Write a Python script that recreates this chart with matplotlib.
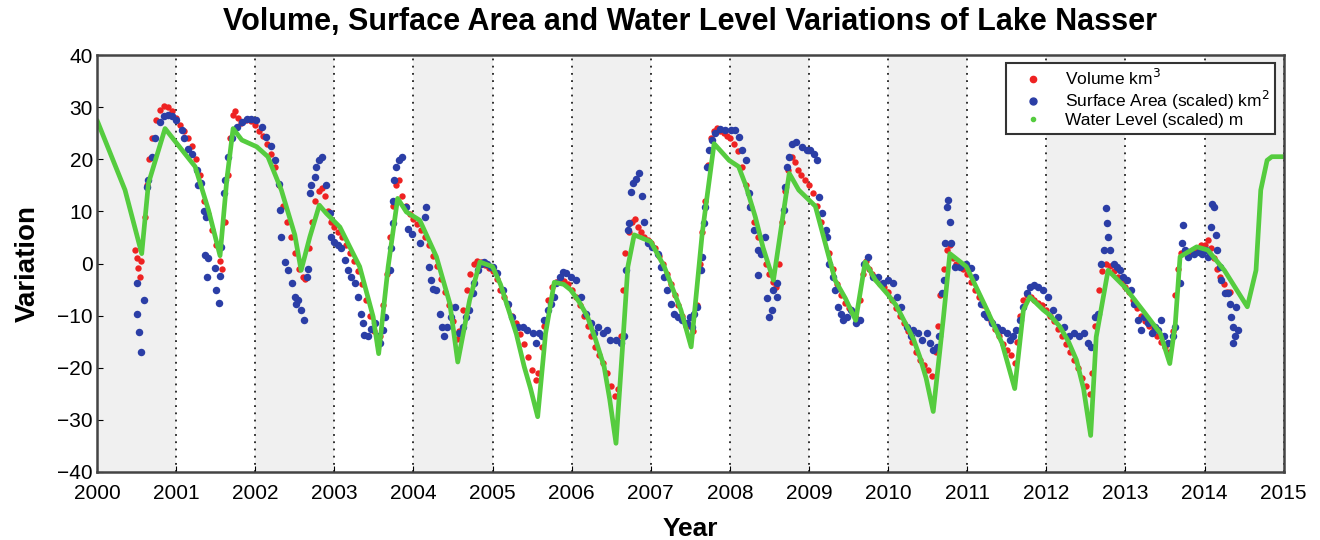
import matplotlib
matplotlib.use('Agg')
import matplotlib.pyplot as plt
from matplotlib.lines import Line2D

plt.rcParams['font.family'] = ['Liberation Sans', 'DejaVu Sans']

# Water level (scaled)
level_year = [2000.0, 2000.354, 2000.565, 2000.65, 2000.86, 2001.24, 2001.41, 2001.555, 2001.64, 2001.72,
              2001.83, 2002.02, 2002.16, 2002.33, 2002.50, 2002.58, 2002.69, 2002.81, 2002.90, 2003.07,
              2003.32, 2003.49, 2003.56, 2003.68, 2003.80, 2003.91, 2004.08, 2004.29, 2004.46, 2004.56,
              2004.71, 2004.84, 2005.0, 2005.1, 2005.23, 2005.3, 2005.40, 2005.48, 2005.57, 2005.67, 2005.78,
              2005.9, 2005.99, 2006.1, 2006.20, 2006.3, 2006.41, 2006.48, 2006.56, 2006.64, 2006.71, 2006.79,
              2007.0, 2007.17, 2007.38, 2007.51, 2007.65, 2007.80, 2007.99, 2008.11, 2008.2, 2008.32, 2008.42,
              2008.55, 2008.75, 2008.87, 2009.08, 2009.33, 2009.46, 2009.59, 2009.71, 2009.84, 2010.0, 2010.1,
              2010.24, 2010.32, 2010.40, 2010.48, 2010.57, 2010.70, 2010.78, 2010.99, 2011.25, 2011.44, 2011.60,
              2011.71, 2011.79, 2011.96, 2012.05, 2012.17, 2012.28, 2012.38, 2012.47, 2012.56, 2012.63,
              2012.78, 2012.99, 2013.25, 2013.44, 2013.56, 2013.63, 2013.69, 2013.90, 2014.04, 2014.25,
              2014.54, 2014.65, 2014.71, 2014.79, 2014.85, 2015.0]
level_val = [27.5, 14.1, 1.9, 15.4, 25.9, 18.6, 10.2, 1.5, 16, 25.9,
             23.7, 22.4, 20.5, 14.1, 5.5, -1.3, 5.1, 11.2, 9.6, 7.0,
             -0.6, -10.2, -17.3, -0.6, 12.5, 9.9, 8.3, 1.3, -7.7, -18.9,
             -7.0, 0.3, -0.6, -4.0, -10.2, -13.5, -19.8, -24.0, -29.4, -13.4, -3.6,
             -4.0, -5.1, -7.5, -10.2, -14.5, -19.8, -26.0, -34.5, -16.6, -0.6, 5.5,
             4.2, -0.6, -8.9, -16.0, 5.8, 23.0, 19.8, 18.6, 15.0, 9.0, 3.0,
             -3.2, 17.3, 14.1, 11.0, -3.2, -6.7, -10.9, 0.3, -3.2, -6.0, -8.0,
             -12.1, -14.5, -17.9, -22.0, -28.4, -10.2, 1.9, -0.6, -8.9, -15.3, -24.0,
             -8.9, -6.4, -8.9, -10.0, -12.1, -15.0, -18.5, -24.0, -33.0, -14.1,
             -1.3, -4.5, -9.6, -13.4, -19.2, -11.5, 1.3, 3.2, 2.6, -1.3,
             -8.3, -1.3, 14.1, 19.8, 20.5, 20.5]

# Volume km3
vol_year = [2000.48, 2000.50, 2000.52, 2000.54, 2000.55, 2000.61, 2000.63, 2000.66, 2000.70, 2000.75, 2000.80, 2000.85, 2000.90, 2000.95,
            2001.0, 2001.05, 2001.1, 2001.15, 2001.2, 2001.25, 2001.3, 2001.35, 2001.4, 2001.45, 2001.5, 2001.55, 2001.58,
            2001.62, 2001.65, 2001.68, 2001.72, 2001.75, 2001.78, 2001.82, 2001.88, 2001.95, 2002.0, 2002.05, 2002.1, 2002.15, 2002.2, 2002.25,
            2002.3, 2002.35, 2002.4, 2002.45, 2002.5, 2002.55, 2002.6, 2002.63, 2002.68, 2002.72, 2002.76, 2002.8, 2002.84, 2002.88, 2002.92, 2002.96,
            2003.0, 2003.05, 2003.1, 2003.15, 2003.2, 2003.25, 2003.3, 2003.35, 2003.4, 2003.45, 2003.5, 2003.55, 2003.58,
            2003.62, 2003.66, 2003.70, 2003.74, 2003.78, 2003.82, 2003.86, 2003.9, 2003.95, 2004.0, 2004.05, 2004.1, 2004.15, 2004.2, 2004.25,
            2004.3, 2004.35, 2004.4, 2004.45, 2004.5, 2004.55, 2004.58, 2004.63, 2004.68, 2004.72, 2004.76, 2004.8, 2004.85, 2004.9, 2004.95,
            2005.0, 2005.05, 2005.1, 2005.15, 2005.2, 2005.25, 2005.3, 2005.35, 2005.4, 2005.45, 2005.5, 2005.55, 2005.58, 2005.62,
            2005.65, 2005.7, 2005.75, 2005.8, 2005.85, 2005.9, 2005.95, 2006.0, 2006.05, 2006.1, 2006.15, 2006.2, 2006.25, 2006.3, 2006.35,
            2006.4, 2006.45, 2006.5, 2006.55, 2006.58, 2006.62, 2006.65, 2006.68, 2006.72, 2006.76, 2006.8, 2006.84, 2006.88, 2006.92, 2006.96,
            2007.0, 2007.05, 2007.1, 2007.15, 2007.2, 2007.25, 2007.3, 2007.35, 2007.4, 2007.45, 2007.5, 2007.53, 2007.58,
            2007.62, 2007.65, 2007.68, 2007.72, 2007.76, 2007.8, 2007.84, 2007.88, 2007.92, 2007.96, 2008.0, 2008.05, 2008.1, 2008.15, 2008.2,
            2008.25, 2008.3, 2008.35, 2008.4, 2008.45, 2008.5, 2008.55, 2008.58, 2008.62, 2008.66, 2008.7, 2008.74, 2008.78, 2008.82, 2008.86,
            2008.9, 2008.95, 2009.0, 2009.05, 2009.1, 2009.15, 2009.2, 2009.25, 2009.3, 2009.35, 2009.4, 2009.45, 2009.5, 2009.55, 2009.6,
            2009.64, 2009.68, 2009.72, 2009.76, 2009.8, 2009.85, 2009.9, 2009.95, 2010.0, 2010.05, 2010.1, 2010.15, 2010.2, 2010.25, 2010.3,
            2010.35, 2010.4, 2010.45, 2010.5, 2010.55, 2010.6, 2010.63, 2010.66, 2010.7, 2010.74, 2010.78, 2010.82, 2010.86, 2010.9, 2010.95,
            2011.0, 2011.05, 2011.1, 2011.15, 2011.2, 2011.25, 2011.3, 2011.35, 2011.4, 2011.45, 2011.5, 2011.55, 2011.6, 2011.63, 2011.67,
            2011.7, 2011.75, 2011.8, 2011.85, 2011.9, 2011.95, 2012.0, 2012.05, 2012.1, 2012.15, 2012.2, 2012.25, 2012.3, 2012.35, 2012.4,
            2012.45, 2012.5, 2012.55, 2012.58, 2012.62, 2012.66, 2012.7, 2012.75, 2012.8, 2012.85, 2012.9, 2012.95, 2013.0, 2013.05, 2013.1,
            2013.15, 2013.2, 2013.25, 2013.3, 2013.35, 2013.4, 2013.45, 2013.5, 2013.55, 2013.6, 2013.63, 2013.66, 2013.7, 2013.75, 2013.8,
            2013.85, 2013.9, 2013.95, 2014.0, 2014.04, 2014.08, 2014.12, 2014.16, 2014.2, 2014.24, 2014.28, 2014.32]
vol_val = [2.6, 1.0, -0.8, -2.5, 0.5, 9, 15, 20, 24, 27.5, 29.5, 30.2, 30.0, 29.2,
           28, 26.5, 25.5, 24, 22.5, 20, 17, 12, 9.5, 6.5, 3.5, 0.5, -1,
           8, 17, 24, 28.5, 29.3, 28, 27, 27.5, 27.3, 26.5, 25.5, 24.5, 23, 21, 18.5,
           15, 11, 8, 5, 2, -1, -2.5, -3, 3, 8, 12, 14, 14.5, 13, 10, 8,
           7, 6, 5, 3.5, 2, 0.5, -1.5, -4, -7, -10, -13, -15.5, -14,
           -8, -2, 5, 11, 15, 16, 13, 11, 9.5, 8.5, 7.5, 6.5, 5, 3.5, 1.5,
           -0.5, -3, -5.5, -8, -11, -14.5, -13, -9, -5, -2, 0, 0.5, 0.2, -0.3, -0.8,
           -1.5, -3, -5, -6.5, -8, -10, -11.5, -13.5, -15.5, -18, -20.5, -22.3, -21, -16,
           -12, -7, -4.5, -3.5, -3, -3.3, -4, -5, -6.5, -8, -10, -12, -14, -16, -17.5,
           -19, -21, -23.5, -25.5, -24, -14, -5, 2, 6, 8, 8.5, 7, 6, 5, 4.5,
           4, 3, 1.5, 0, -2, -4, -6, -8, -10, -12, -14.5, -13, -8,
           0, 6, 12, 19, 24, 25.5, 26, 25.5, 25, 24.5, 24, 23, 21.5, 18.5, 15,
           11, 8, 5, 2.5, 0, -2, -3.5, -4.5, 0, 8, 14, 18, 20.5, 19.5, 18,
           17, 16, 15, 13.5, 11, 8, 5, 2, -1, -4, -6, -7.5, -8.5, -9.5, -10.5,
           -7, -2, 0.5, -1, -2, -3, -4, -4.5, -5.5, -7, -8.5, -10, -11.5, -13, -15,
           -17, -18.5, -19.5, -20.5, -21.5, -17, -12, -6, -1, 2.5, 3.5, 1, 0, -0.5, -1,
           -2, -3.5, -5, -6.5, -8, -9.5, -11, -12.5, -14, -15.5, -16.5, -17.5, -19, -15, -10,
           -7, -6, -6.5, -7, -7.5, -8, -9, -10, -11, -12.5, -14, -15.5, -17, -18.5, -20,
           -22, -23.5, -25, -21, -12, -5, -1.5, 0, -0.5, -1.5, -2.5, -3.5, -4.5, -5.5, -7,
           -8.5, -10, -11, -12, -13, -14, -15, -16, -17, -13, -6, -1, 2, 2.5, 2,
           2.5, 3, 3.5, 3.5, 4.5, 3, 1, -1, -2.5, -4, -5.5, -5.5]

# Surface area (scaled) km2
area_year = [2000.50, 2000.59, 2000.51, 2000.53, 2000.56, 2000.63, 2000.64, 2000.69, 2000.73, 2000.80, 2000.85, 2000.90, 2000.95,
             2001.0, 2001.07, 2001.1, 2001.15, 2001.2, 2001.26, 2001.28, 2001.32, 2001.35, 2001.38, 2001.36, 2001.40, 2001.39, 2001.49, 2001.51, 2001.54, 2001.56, 2001.57,
             2001.60, 2001.62, 2001.66, 2001.70, 2001.77, 2001.83, 2001.89, 2001.95, 2002.01, 2002.08, 2002.14, 2002.2, 2002.25, 2002.3, 2002.31, 2002.33, 2002.37, 2002.41,
             2002.46, 2002.50, 2002.52, 2002.54, 2002.58, 2002.62, 2002.65, 2002.67, 2002.69, 2002.71, 2002.75, 2002.77, 2002.81, 2002.85, 2002.90, 2002.94, 2002.96,
             2003.0, 2003.04, 2003.08, 2003.13, 2003.17, 2003.21, 2003.26, 2003.30, 2003.34, 2003.36, 2003.38, 2003.42, 2003.46, 2003.51, 2003.55, 2003.58, 2003.61, 2003.64,
             2003.70, 2003.72, 2003.74, 2003.745, 2003.75, 2003.78, 2003.82, 2003.85, 2003.91, 2003.93, 2003.98, 2004.08, 2004.16, 2004.15, 2004.20, 2004.22, 2004.25, 2004.29,
             2004.33, 2004.36, 2004.39, 2004.43, 2004.48, 2004.52, 2004.58, 2004.62, 2004.66, 2004.70, 2004.75, 2004.77, 2004.81, 2004.85, 2004.89, 2004.93, 2004.98,
             2005.0, 2005.06, 2005.13, 2005.19, 2005.25, 2005.32, 2005.38, 2005.44, 2005.51, 2005.55, 2005.59, 2005.63, 2005.65, 2005.70, 2005.74, 2005.78, 2005.80,
             2005.85, 2005.89, 2005.93, 2005.99, 2006.06, 2006.12, 2006.18, 2006.24, 2006.28, 2006.33, 2006.39, 2006.45, 2006.49, 2006.56, 2006.62, 2006.66,
             2006.69, 2006.71, 2006.73, 2006.75, 2006.77, 2006.81, 2006.85, 2006.89, 2006.91, 2006.96, 2007.02, 2007.09, 2007.13, 2007.17, 2007.21, 2007.25, 2007.29,
             2007.34, 2007.40, 2007.46, 2007.50, 2007.52, 2007.54, 2007.58, 2007.63, 2007.65, 2007.67, 2007.69, 2007.71, 2007.73, 2007.77, 2007.81, 2007.88, 2007.94,
             2008.01, 2008.07, 2008.11, 2008.15, 2008.20, 2008.24, 2008.26, 2008.30, 2008.35, 2008.39, 2008.44, 2008.36, 2008.47, 2008.49, 2008.53, 2008.55, 2008.59, 2008.60,
             2008.68, 2008.70, 2008.72, 2008.75, 2008.78, 2008.84, 2008.91, 2008.97, 2009.01, 2009.06, 2009.10, 2009.12, 2009.17, 2009.21, 2009.23, 2009.25, 2009.30,
             2009.33, 2009.36, 2009.40, 2009.43, 2009.48, 2009.53, 2009.59, 2009.64, 2009.69, 2009.75, 2009.81, 2009.87, 2009.94, 2010.0,
             2010.06, 2010.11, 2010.16, 2010.24, 2010.29, 2010.32, 2010.38, 2010.43, 2010.49, 2010.53, 2010.57, 2010.62, 2010.64, 2010.68, 2010.70, 2010.72, 2010.74, 2010.76, 2010.78, 2010.80,
             2010.85, 2010.91, 2010.99, 2011.05, 2011.1, 2011.17, 2011.21, 2011.25, 2011.31, 2011.37, 2011.44, 2011.50, 2011.54, 2011.58, 2011.62, 2011.67, 2011.71, 2011.75,
             2011.79, 2011.84, 2011.90, 2011.96, 2012.02, 2012.09, 2012.15, 2012.22, 2012.28, 2012.35, 2012.41, 2012.47, 2012.53, 2012.57, 2012.61, 2012.65,
             2012.69, 2012.73, 2012.76, 2012.765, 2012.78, 2012.80, 2012.85, 2012.89, 2012.93, 2012.97, 2013.02, 2013.07, 2013.11, 2013.16, 2013.20, 2013.24, 2013.28,
             2013.33, 2013.37, 2013.41, 2013.45, 2013.49, 2013.54, 2013.60, 2013.63, 2013.69, 2013.71, 2013.73, 2013.75, 2013.79, 2013.87, 2013.93, 2013.97, 2014.02, 2014.04,
             2014.08, 2014.10, 2014.12, 2014.14, 2014.16, 2014.19, 2014.21, 2014.26, 2014.30, 2014.32, 2014.34, 2014.36, 2014.38, 2014.365, 2014.40, 2014.42]
area_val = [-3.8, -7.0, -9.6, -13.1, -16.9, 14.7, 16, 20.5, 24, 27.2, 28.3, 28.5, 28.3,
            27.5, 25.6, 24, 22, 21, 18, 15, 15.4, 10, 9, 1.6, 1, -2.5, -0.9, -5, -7.6, -2.4, 3.2,
            13.5, 16, 20.5, 24, 26.2, 27.2, 27.8, 27.8, 27.5, 26.2, 24.3, 22.5, 19.8, 15.2, 10.3, 5.1, 0.3, -1.3,
            -3.8, -6.4, -7.7, -7, -9, -10.9, -2.5, -1, 13.5, 15, 16.6, 18.5, 19.8, 20.4, 15, 9.6, 5.1,
            4.2, 3.6, 2.9, 0.7, -1.3, -2.5, -3.8, -6.4, -9.6, -11.5, -13.7, -14, -12.5, -11.5, -14, -15.2, -12.7, -10.2,
            -1.3, 3, 7.7, 12, 16, 18.5, 19.8, 20.4, 10.9, 6.7, 5.7, 3.9, 10.9, 9, -0.6, -3.2, -4.8, -5.1,
            -9.6, -12.2, -14, -12.2, -10.2, -8.3, -13.4, -12.2, -10.2, -9, -5.7, -3.8, -1.3, 0, 0.3, 0, -0.6,
            -0.6, -1.9, -5.1, -7.7, -10.2, -12.1, -12.1, -12.8, -13.4, -15.3, -13.4, -14, -10.9, -9, -7.7, -6.4, -3.8,
            -2.6, -1.6, -1.9, -2.5, -3.2, -6.4, -9.6, -11.5, -13.4, -12.1, -13.4, -12.8, -14.7, -14.7, -15.3, -14,
            -1.3, 6.4, 7.7, 13.8, 15.4, 16.3, 17.3, 12.9, 8, 3.9, 3.2, 1.9, -0.6, -2.5, -5.1, -7.7, -9.6,
            -10.2, -10.9, -11.5, -10.2, -12.1, -9.6, -8.3, -1.3, 1.3, 7.7, 10.9, 18.6, 21.8, 23.7, 25, 25.9, 25.6,
            25.6, 25.6, 24.3, 21.8, 19.8, 13.5, 10.9, 6.4, 2.6, 1.9, 5.1, -2.2, -6.7, -10.2, -9, -5.1, -6.4, -3.8,
            10.2, 14.7, 18.6, 20.4, 23, 23.3, 22.4, 21.8, 21.8, 21.1, 19.8, 12.8, 9.6, 6.4, 5.1, 0, -2.5,
            -5.1, -8.3, -9.6, -10.9, -10.2, -9, -11.5, -10.9, 0, 1.3, -2.5, -2.5, -3.8, -3.2,
            -3.8, -6.4, -8.3, -12.1, -14, -12.8, -13.4, -14.7, -13.4, -15.3, -16.6, -16, -14, -5.7, -3.2, 3.9, 10.9, 12.2, 8, 3.9,
            -0.6, -0.6, 0, -0.9, -2.5, -7.7, -9.6, -10.2, -11.5, -12.1, -12.8, -13.4, -14.7, -14, -12.8, -10.9, -8.3, -5.7,
            -4.5, -4.2, -4.5, -5.1, -6.4, -8.9, -10.2, -12.1, -14, -13.4, -14, -13.4, -15.3, -16, -10.2, -9.6,
            0, 2.6, 10.6, 7.7, 5, 2.6, 0, -0.6, -1.3, -2.5, -3.2, -5.1, -7.7, -10.9, -12.8, -10.2, -11.5,
            -13.4, -12.1, -12.8, -10.9, -14, -15.3, -14, -12.1, -3.8, 3.9, 7.4, 2.6, 1.3, 1.9, 2.2, 1.9, 2.6, 1.3,
            7.1, 11.5, 10.9, 5.5, 2.6, -0.6, -3.2, -5.7, -5.7, -7.7, -10.2, -12.1, -14, -15.3, -8.3, -12.8]

years = list(range(2000, 2016))
shaded_starts = list(range(2000, 2015, 2))

red = '#ee2222'
blue = '#2b3ea6'
green = '#55cc3f'

fig = plt.figure(figsize=(13.2, 5.4), dpi=100)
ax = fig.add_axes([0.0735, 0.126, 0.899, 0.772])

# alternating year bands
for y0 in shaded_starts:
    ax.axvspan(y0, y0 + 1, color='#f0f0f0', zorder=0, lw=0)

ax.plot(vol_year, vol_val, 'o', color=red, markersize=4.6, markeredgewidth=0, zorder=3)
ax.plot(area_year, area_val, 'o', color=blue, markersize=5.4, markeredgewidth=0, zorder=4)
ax.plot(level_year, level_val, '-', color=green, linewidth=3.4, solid_capstyle='round',
        solid_joinstyle='round', zorder=5)

ax.set_xlim(2000, 2015)
ax.set_ylim(-40, 40)
ax.set_xticks(years)
ax.set_yticks(range(-40, 41, 10))
ax.tick_params(direction='in', length=4, labelsize=15)
ax.tick_params(axis='x', pad=9)
ax.tick_params(axis='y', pad=3)
ax.grid(axis='x', color='#222222', linestyle=(0, (1, 3)), linewidth=1.3)
ax.set_axisbelow(False)
for sp in ax.spines.values():
    sp.set_linewidth(1.8)
    sp.set_color('#444444')
    sp.set_zorder(6)

ax.set_title('Volume, Surface Area and Water Level Variations of Lake Nasser',
             fontsize=22, fontweight='bold', pad=18)
ax.set_xlabel('Year', fontsize=19, fontweight='bold', labelpad=10)
ax.set_ylabel('Variation', fontsize=20, fontweight='bold', labelpad=12)

handles = [Line2D([], [], linestyle='none', marker='o', color=red, markersize=4.5),
           Line2D([], [], linestyle='none', marker='o', color=blue, markersize=5),
           Line2D([], [], linestyle='none', marker='o', color=green, markersize=3)]
labels = ['Volume km$^3$', 'Surface Area (scaled) km$^2$', 'Water Level (scaled) m']
leg = ax.legend(handles, labels, loc='upper right', bbox_to_anchor=(0.993, 0.981),
                fontsize=12.5, frameon=True, fancybox=False, framealpha=1,
                edgecolor='#333333', handlelength=2.4, handletextpad=0.7,
                labelspacing=0.05, borderpad=0.3, borderaxespad=0)
leg.get_frame().set_linewidth(1.5)
leg.set_zorder(10)

fig.savefig('out.png', dpi=100)
